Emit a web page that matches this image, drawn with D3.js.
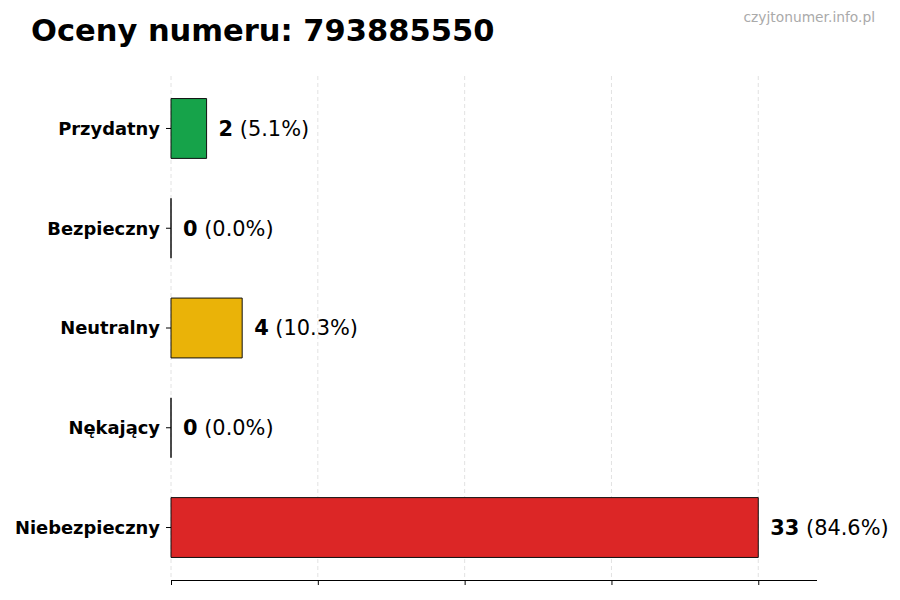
<!DOCTYPE html>
<html>
<head>
<meta charset="utf-8">
<script src="https://cdn.jsdelivr.net/npm/d3@7"></script>
<style>
  body { margin: 0; background: #fff; }
  text { font-family: "DejaVu Sans", sans-serif; }
</style>
</head>
<body>
<div id="chart"></div>
<script>
var categories = ['Przydatny', 'Bezpieczny', 'Neutralny', 'Nękający', 'Niebezpieczny'];
var counts = [2, 0, 4, 0, 33];
var percents = [5.1, 0.0, 10.3, 0.0, 84.6];
var colors = ['#16a34a', '#2563eb', '#eab308', '#f97316', '#dc2626'];
var phone = '793885550';

(function() {
  var width = 900, height = 600;
  var mLeft = 171, mRight = 817, mTop = 76, mBottom = 580;

  var svg = d3.select('#chart').append('svg')
    .attr('width', width)
    .attr('height', height);

  var maxVal = d3.max(counts);
  var x = d3.scaleLinear().domain([0, maxVal * 1.1]).range([mLeft, mRight]);
  var y = d3.scaleBand().domain(categories).range([mTop, mBottom]).paddingInner(0.4).paddingOuter(0.226);

  var ticks = d3.range(5).map(function(i) { return maxVal * i / 4; });

  // grid
  svg.append('g').selectAll('line').data(ticks).enter().append('line')
    .attr('x1', function(d) { return x(d); })
    .attr('x2', function(d) { return x(d); })
    .attr('y1', mTop)
    .attr('y2', mBottom)
    .attr('stroke', '#dadada')
    .attr('stroke-width', 0.8)
    .attr('stroke-dasharray', '4,3');

  // bars (paths so zero-width bars still show their edge)
  svg.append('g').selectAll('path').data(categories).enter().append('path')
    .attr('d', function(d, i) {
      var x0 = x(0), w = x(counts[i]) - x(0), y0 = y(d), h = y.bandwidth();
      return 'M' + x0 + ',' + y0 + 'h' + w + 'v' + h + 'h' + (-w) + 'Z';
    })
    .attr('fill', function(d, i) { return colors[i]; })
    .attr('stroke', '#111')
    .attr('stroke-width', 1);

  // x axis, no labels
  var xAxis = svg.append('g')
    .attr('transform', 'translate(0,' + mBottom + ')')
    .call(d3.axisBottom(x).tickValues(ticks).tickSize(5).tickFormat(''));
  xAxis.select('.domain').attr('stroke', '#000').attr('d', 'M' + mLeft + ',0.5H' + mRight);
  xAxis.selectAll('.tick line').attr('stroke', '#000');

  // y axis ticks + labels
  var yAxis = svg.append('g')
    .attr('transform', 'translate(' + mLeft + ',0)')
    .call(d3.axisLeft(y).tickSize(5).tickPadding(6));
  yAxis.select('.domain').remove();
  yAxis.selectAll('.tick line').attr('stroke', '#000');
  yAxis.selectAll('.tick text')
    .attr('fill', '#000')
    .attr('dy', '0.36em')
    .style('font-family', '"DejaVu Sans", sans-serif')
    .style('font-size', '17.9px')
    .style('font-weight', 'bold');

  // value labels
  var labels = svg.append('g').selectAll('text').data(categories).enter().append('text')
    .attr('x', function(d, i) { return x(counts[i]) + 12; })
    .attr('y', function(d) { return y(d) + y.bandwidth() / 2; })
    .attr('dy', '0.35em')
    .style('font-size', '20.9px')
    .attr('fill', '#000');
  labels.append('tspan')
    .style('font-weight', 'bold')
    .text(function(d, i) { return counts[i]; });
  labels.append('tspan')
    .text(function(d, i) { return ' (' + percents[i].toFixed(1) + '%)'; });

  // title
  svg.append('text')
    .attr('x', 31)
    .attr('y', 41)
    .style('font-size', '30.5px')
    .style('font-weight', 'bold')
    .attr('fill', '#000')
    .text('Oceny numeru: ' + phone);

  // watermark
  svg.append('text')
    .attr('x', 875)
    .attr('y', 22)
    .attr('text-anchor', 'end')
    .style('font-size', '13.8px')
    .attr('fill', '#aaa')
    .text('czyjtonumer.info.pl');
})();
</script>
</body>
</html>
